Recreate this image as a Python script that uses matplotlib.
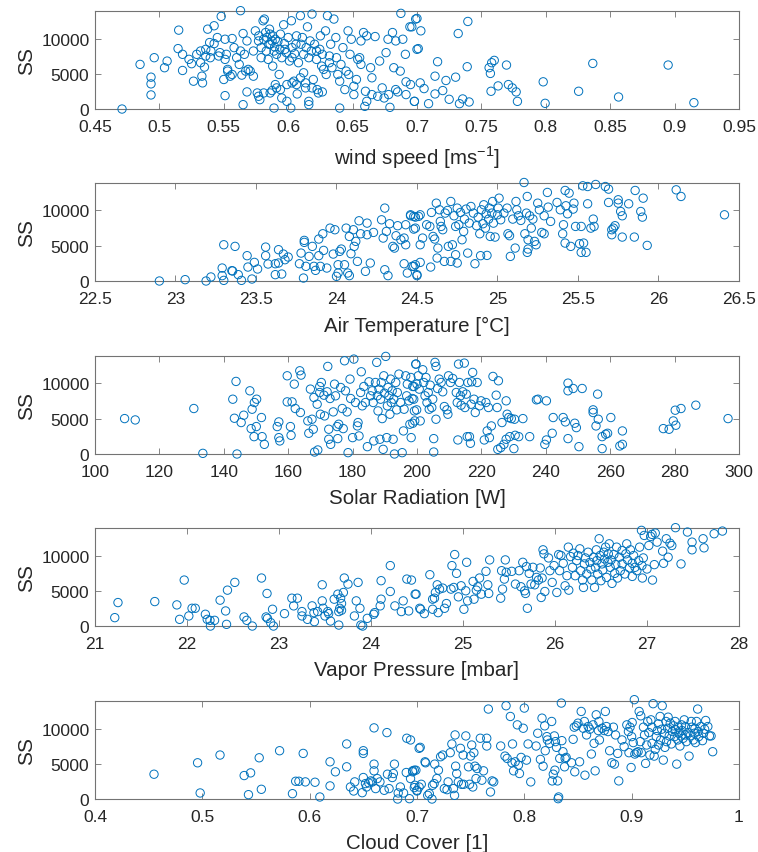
import numpy as np
import matplotlib.pyplot as plt
from matplotlib.ticker import FuncFormatter

# SS against five weather variables

wind_speed = [
    0.471, 0.485, 0.496, 0.4935, 0.4935, 0.4935, 0.504, 0.506, 0.515, 0.5145,
    0.518, 0.518, 0.523, 0.525, 0.5265, 0.529, 0.532, 0.533, 0.5335, 0.535,
    0.536, 0.5375, 0.539, 0.54, 0.5425, 0.545, 0.546, 0.548, 0.55, 0.551,
    0.551, 0.552, 0.553, 0.5565, 0.5565, 0.558, 0.562, 0.563, 0.564, 0.565,
    0.565, 0.566, 0.568, 0.569, 0.573, 0.5745, 0.576, 0.577, 0.578, 0.579,
    0.5805, 0.5815, 0.5825, 0.5835, 0.585, 0.5855, 0.586, 0.5875, 0.5875, 0.588,
    0.589, 0.589, 0.590, 0.591, 0.593, 0.594, 0.595, 0.5965, 0.5975, 0.599,
    0.600, 0.602, 0.6025, 0.603, 0.6045, 0.606, 0.607, 0.6095, 0.611, 0.612,
    0.6135, 0.615, 0.616, 0.617, 0.6185, 0.6195, 0.622, 0.6235, 0.625, 0.626,
    0.629, 0.6305, 0.632, 0.633, 0.6355, 0.637, 0.640, 0.640, 0.6425, 0.644,
    0.6465, 0.648, 0.649, 0.651, 0.654, 0.6565, 0.6585, 0.6595, 0.660, 0.661,
    0.664, 0.665, 0.6675, 0.671, 0.6745, 0.676, 0.6775, 0.679, 0.681, 0.682,
    0.6835, 0.685, 0.6875, 0.689, 0.6915, 0.6915, 0.6945, 0.698, 0.699, 0.7,
    0.5772, 0.579, 0.581, 0.583, 0.5845, 0.586, 0.588, 0.5895, 0.591, 0.592,
    0.5935, 0.595, 0.597, 0.5985, 0.601, 0.603, 0.605, 0.6065, 0.608, 0.610,
    0.612, 0.614, 0.616, 0.618, 0.6205, 0.622, 0.6245, 0.6265, 0.6275, 0.6295,
    0.632, 0.634, 0.6375, 0.6385, 0.641, 0.645, 0.647, 0.651, 0.653, 0.6555,
    0.6565, 0.661, 0.665, 0.6695, 0.673, 0.678, 0.6835, 0.687, 0.691, 0.695,
    0.532, 0.536, 0.5395, 0.5425, 0.547, 0.551, 0.553, 0.555, 0.560, 0.563,
    0.567, 0.5705, 0.573, 0.568, 0.577, 0.581, 0.586, 0.590, 0.594, 0.599,
    0.603, 0.6065, 0.6095, 0.6135, 0.616, 0.6185, 0.6225, 0.6265,
    0.696, 0.7, 0.703, 0.701, 0.716, 0.714, 0.7025, 0.7055, 0.698, 0.709,
    0.714, 0.720, 0.7225, 0.725, 0.730, 0.732, 0.733, 0.7355, 0.739, 0.7395,
    0.7405, 0.756, 0.757, 0.758, 0.760, 0.7575, 0.763, 0.7695, 0.771, 0.774,
    0.777, 0.778, 0.798, 0.7995, 0.8255, 0.8365, 0.8565, 0.895, 0.915,
]
ss_wind = [
    0, 6330, 7280, 4520, 3570, 2000, 5860, 6800, 11190, 8570,
    7760, 5470, 7050, 6430, 3950, 7760, 8230, 4660, 3710, 5950,
    8470, 11330, 9430, 8230, 11810, 10140, 7520, 13140, 4190, 1900,
    9900, 7760, 5620, 10000, 4900, 8710, 6330, 13950, 4810, 10710,
    620, 7760, 9660, 5620, 8230, 11090, 2280, 9660, 1330, 7280,
    12520, 12760, 10850, 10140, 9190, 11330, 10620, 9660, 2620, 6090,
    140, 8230, 9900, 3000, 4900, 10620, 1570, 11950, 8470, 3470,
    10140, 140, 12520, 7280, 3950, 9190, 2140, 13240, 10140, 5140,
    3000, 11660, 620, 9660, 13470, 4190, 8230, 2280, 10380, 6090,
    11090, 13240, 6570, 9190, 12760, 10140, 3950, 140, 8710, 2760,
    11090, 7760, 9900, 2050, 7050, 9660, 10850, 380, 2520, 10380,
    5860, 4430, 10280, 6810, 1570, 8000, 9900, 240, 10850, 5860,
    9660, 2430, 13570, 9900, 3860, 2050, 11660, 1090, 12760, 8470,
    10380, 8710, 9900, 8230, 7040, 9190, 10380, 8810, 7760, 9570,
    8470, 7280, 9280, 8000, 6810, 8710, 7850, 10380, 6570, 9190,
    7760, 8710, 7280, 8230, 9190, 7040, 8470, 7760, 5620, 4900,
    7520, 5860, 7280, 4900, 6330, 5380, 4900, 3240, 4190, 7280,
    6330, 1090, 2050, 1810, 3000, 2050, 2760, 5380, 7760, 3470,
    6570, 7520, 7280, 9280, 8000, 7040, 5380, 4660, 7280, 8230,
    5380, 5380, 4660, 2430, 1810, 2280, 2280, 3470, 2760, 1090,
    3710, 3470, 4430, 3710, 1090, 3000, 2760, 2430,
    11660, 12850, 11090, 8570, 6710, 4660, 3710, 2900, 1090, 760,
    2140, 2620, 4050, 1380, 4520, 10710, 760, 1430, 6000, 12420,
    1000, 5860, 5050, 6570, 6900, 2520, 3280, 6240, 3470, 3000,
    2430, 1090, 3860, 810, 2520, 6470, 1710, 6240, 900,
]

air_temp = [
    22.90, 23.06, 23.19, 23.22, 23.29, 23.30, 23.30, 23.29, 23.35, 23.355,
    23.37, 23.39, 23.41, 23.445, 23.45, 23.475, 23.49, 23.51, 23.56, 23.56,
    23.575, 23.62, 23.62, 23.64, 23.64, 23.66, 23.67, 23.68, 23.70, 23.77,
    23.78, 23.795, 23.80, 23.80, 23.81, 23.83, 23.85, 23.86, 23.87, 23.89,
    23.89, 23.90, 23.915, 23.92, 23.94, 23.96, 23.98, 23.99, 24.0, 24.01,
    24.01, 24.02, 24.03, 24.05, 24.06, 24.07, 24.08, 24.08, 24.09, 24.105,
    24.11, 24.12, 24.13, 24.14, 24.15, 24.18, 24.19, 24.19, 24.21, 24.23,
    24.28, 24.29, 24.30, 24.30, 24.31, 24.32, 24.33, 24.35, 24.36, 24.37,
    24.38, 24.40, 24.42, 24.42, 24.43, 24.43, 24.44, 24.46, 24.47, 24.48,
    24.49, 24.50,
    24.46, 24.48, 24.51, 24.52, 24.49, 24.49, 24.50, 24.48, 24.52, 24.535,
    24.52, 24.56, 24.58, 24.585, 24.59, 24.60, 24.61, 24.62, 24.625, 24.63,
    24.64, 24.645, 24.65, 24.66, 24.67, 24.675, 24.69, 24.695, 24.71, 24.71,
    24.72, 24.73, 24.74, 24.74, 24.75, 24.75, 24.76, 24.77, 24.78, 24.79,
    24.795, 24.805, 24.815, 24.825, 24.835, 24.85, 24.86, 24.87, 24.88, 24.89,
    24.895, 24.90, 24.91, 24.915, 24.925, 24.93, 24.935, 24.945, 24.95, 24.955,
    24.965, 24.97, 24.975, 24.985, 25.0, 25.005, 25.01, 25.02, 25.04, 25.06,
    25.065, 25.075, 25.08, 25.095, 25.11, 25.115, 25.12, 25.13, 25.145, 25.165,
    25.17, 25.18, 25.185, 25.185, 25.19, 25.19, 25.20, 25.21, 25.22, 25.23,
    25.24, 25.25, 25.26, 25.275, 25.29, 25.29, 25.31, 25.315, 25.33, 25.37,
    25.39, 25.405, 25.41, 25.42, 25.42, 25.425, 25.435, 25.445, 25.455, 25.47,
    25.475, 25.485, 25.51, 25.52, 25.52, 25.53, 25.535, 25.55, 25.56, 25.56,
    25.58, 25.595, 25.60, 25.61, 25.67, 25.69, 25.69, 25.71, 25.71, 25.72,
    25.73, 25.75, 25.75, 25.765, 25.775, 25.775, 25.815, 25.85, 25.855, 25.89,
    25.90, 25.905, 25.93, 26.11, 26.14, 26.41,
]
ss_temp = [
    0, 190, 0, 570, 1840, 5140, 90, 760, 1460, 1420,
    4910, 900, 90, 3590, 1980, 280, 2640, 1700, 4810, 3590,
    2410, 2450, 900, 4440, 2550, 990, 3820, 3020, 3400, 2450,
    3960, 420, 5760, 5480, 2080, 3490, 4910, 2080, 1510, 5950,
    3590, 2080, 6700, 4340, 1840, 7500, 3820, 7270, 660, 1130,
    2310, 4200, 4530, 2310, 7500, 1130, 760, 6320, 3870, 7270,
    4910, 5620, 2780, 8540, 6700, 1370, 6560, 8210, 2550, 6890,
    8680, 6090, 10340, 1600, 7030, 760, 8120, 4910, 4670, 6420,
    7840, 5850, 6090, 2450, 7980, 5140, 1130, 9250, 2080, 7360,
    9060, 760,
    9390, 9160, 9160, 9390, 7500, 2310, 900, 2080, 2640, 6090,
    5140, 7980, 7740, 1980, 9720, 6320, 5950, 11040, 3260, 4670,
    10100, 8450, 7740, 7270, 2780, 9630, 10010, 4910, 11280, 2780,
    5140, 9250, 7740, 3730, 10340, 2550, 7980, 9720, 5850, 7030,
    8780, 10200, 3960, 8210, 10570, 9630, 2450, 7840, 9060, 6700,
    3590, 10100, 8120, 10810, 7500, 9530, 3630, 8780, 10340, 6320,
    9630, 11280, 8210, 6230, 9390, 10340, 11750, 8680, 9630, 10340,
    6700, 6420, 3490, 8780, 4670, 11280, 10100, 9250, 8590, 13970,
    6700, 9630, 11990, 4060, 5850, 4530, 9250, 7500, 8780, 5620,
    5140, 11040, 10100, 6890, 6700, 9250, 12560, 10480, 8450, 11140,
    10100, 6700, 7980, 12840, 5380, 10670, 9530, 12460, 4910, 10200,
    11040, 7740, 5290, 4060, 7740, 13500, 5380, 4060, 10950, 13400,
    7500, 8780, 7740, 13690, 13400, 11140, 13030, 7270, 6560, 7500,
    7840, 11520, 11040, 9860, 9250, 6230, 10950, 6230, 12840, 9860,
    9060, 11750, 5050, 12930, 11990, 9390,
]

solar_rad = [
    109.2, 112.5, 130.7, 133.5, 143.8, 142.8, 144.1, 143.3, 145.4, 146.2,
    148.1, 148.8, 148.5, 149.5, 150.2, 149.4, 150.1, 151.7, 151.9, 152.6,
    156.6, 157.1, 157.1, 157.4, 159.7, 159.7, 160.7, 160.9, 161.2, 161.9,
    162.2, 163.6, 164.0, 163.8, 166.1, 166.4, 166.9, 167.4, 167.8, 168.0,
    168.2, 169.0, 169.2, 169.8, 169.8, 170.0, 170.3, 171.1, 171.3, 172.1,
    172.3, 172.6, 172.6, 173.0, 173.2, 174.0, 174.4, 174.7, 175.2, 175.4,
    175.7, 176.3, 176.8, 177.1, 177.5, 177.8, 178.3, 178.6, 179.2, 179.4,
    180.0, 180.4, 180.9, 181.5, 181.7, 182.0, 182.5, 182.7, 183.0, 183.5,
    184.0, 184.6, 185.1, 185.6, 186.1, 186.4, 186.6, 187.1, 187.5, 187.7,
    187.9, 188.2, 188.5, 188.7, 188.9, 189.2, 189.5, 189.7, 189.9, 190.3,
    190.6, 190.8, 191.0, 191.3, 191.6, 191.8, 192.0, 192.3, 192.6, 192.8,
    193.0, 193.4, 193.7, 193.9, 194.4, 194.9, 195.4, 195.8, 196.0, 196.5,
    196.8, 197.0, 197.5, 197.8, 198.2, 198.5, 199.1, 199.3, 199.6, 199.9,
    199.7, 198.1, 198.7, 199.0, 199.2, 198.7, 200.0, 200.4, 200.7, 201.0,
    201.8, 202.1, 202.5, 202.8, 203.1, 203.5, 203.8, 204.1, 204.6, 204.9,
    205.2, 205.2, 205.6, 205.9, 205.9, 206.4, 206.9, 207.5, 208.0, 208.5,
    209.3, 209.6, 209.8, 210.4, 211.1, 212.2, 212.5, 212.7, 212.9, 213.2,
    213.5, 213.7, 214.2, 214.7, 214.9, 215.3, 215.6, 215.8, 216.3, 216.6,
    216.8, 217.0, 217.3, 217.7, 218.1, 218.7, 219.4, 219.9, 220.9, 221.4,
    221.8, 222.2, 222.5, 223.1, 223.6, 224.6, 224.9, 225.3, 225.1, 226.0,
    226.4, 227.0, 227.7, 227.7, 228.0, 228.5, 228.8, 229.3, 230.1, 230.3,
    230.5, 231.6, 232.9, 235.0, 237.1, 237.6, 239.7, 240.2, 240.2, 242.0,
    242.3, 245.4, 246.1, 246.9, 246.9, 246.9, 248.5, 249.0, 249.5, 250.3,
    251.3, 254.7, 254.7, 255.6, 256.1, 256.3, 257.5, 257.5, 258.6, 259.2,
    260.2, 263.0, 263.8, 263.8, 276.5, 278.3, 279.6, 280.4, 280.2, 282.0,
    286.6, 296.6,
]
ss_solar = [
    5020, 4830, 6450, 90, 10290, 7770, 0, 5070, 4460, 5500,
    8960, 6350, 3600, 7300, 7770, 2460, 3890, 5170, 2460, 1370,
    3890, 4550, 2320, 1850, 11090, 7390, 3890, 2650, 7390, 9910,
    6450, 11800, 11190, 5880, 4690, 2940, 9200, 4930, 3510, 8010,
    280, 7060, 570, 9570, 8720, 5640, 10140, 8340, 5400, 8820,
    12420, 3510, 2090, 7870, 1370, 5970, 9910, 8250, 3890, 2180,
    4220, 9430, 6450, 3600, 13220, 8960, 5970, 190, 10620, 7870,
    2320, 13460, 7300, 3980, 4460, 2560, 8720, 11660, 6830, 9570,
    7300, 1040, 10240, 8250, 8960, 7300, 1850, 10140, 12990, 8250,
    6110, 9200, 2090, 7770, 10140, 5020, 660, 11090, 8630, 13840,
    2320, 6830, 9430, 8250, 5640, 10620, 7300, 8960, 2090, 7770,
    0, 10140, 6260, 8720, 11330, 7300, 190, 3270, 6350, 11090,
    8250, 9910, 7540, 4220, 2320, 7870, 9570, 4690, 12750, 6260,
    12750, 10850, 9570, 7770, 6110, 4360, 9910, 11090, 9200, 4690,
    11950, 10140, 8250, 10850, 7300, 8720, 6350, 9760, 6590, 7770,
    2180, 280, 12990, 12420, 4930, 9290, 10620, 10140, 8820, 6730,
    6260, 5640, 11090, 10140, 10710, 8720, 7300, 1990, 12750, 10140,
    8250, 6920, 8820, 12890, 6590, 8490, 2460, 10140, 2460, 1520,
    7060, 10240, 11570, 7770, 5880, 10140, 6830, 7540, 1990, 7300,
    3270, 6590, 2320, 3980, 11000, 8340, 6590, 10380, 660, 900,
    4460, 1370, 7540, 2090, 5640, 5170, 2460, 5020, 760, 4930,
    2650, 2460, 5020, 2460, 7680, 7770, 1370, 1990, 7540, 2940,
    5170, 5170, 4550, 10050, 8960, 2180, 9290, 4360, 3740, 1040,
    9290, 6260, 5880, 3980, 8490, 4930, 2460, 760, 2800, 2940,
    5170, 1140, 3270, 1370, 3600, 3510, 4690, 4080, 6210, 6450,
    6920, 5020,
]

vapor_pres = [
    21.215, 21.25, 21.65, 21.89, 21.92, 21.97, 22.02, 22.055, 22.09, 22.20,
    22.22, 22.25, 22.255, 22.30, 22.36, 22.42, 22.43, 22.44, 22.52, 22.62,
    22.65, 22.71, 22.81, 22.86, 22.87, 22.875, 22.93, 22.91, 22.94, 23.06,
    23.14, 23.16, 23.20, 23.25, 23.25, 23.31, 23.36, 23.38, 23.385, 23.42,
    23.47, 23.47, 23.48, 23.50, 23.53, 23.54, 23.56, 23.60, 23.64, 23.65,
    23.66, 23.67, 23.68, 23.68, 23.70, 23.71, 23.65, 23.75, 23.82, 23.84,
    23.86, 23.88, 23.89, 23.91, 23.96, 24.03, 24.04, 24.10, 24.11, 24.11,
    24.21, 24.21, 24.26, 24.33, 24.35, 24.39, 24.41, 24.49, 24.54,
    24.44, 24.48, 24.53, 24.58, 24.64, 24.67, 24.67, 24.69, 24.70, 24.72,
    24.73, 24.745, 24.78, 24.80, 24.82, 24.87, 24.88, 24.90, 24.91, 24.93,
    24.95, 24.98, 25.01, 25.03, 25.04, 25.05, 25.11, 25.12, 25.145, 25.16,
    25.18, 25.20, 25.25, 25.27, 25.28, 25.29, 25.41, 25.42, 25.43, 25.45,
    25.46, 25.47, 25.53, 25.57, 25.61, 25.63, 25.65, 25.67, 25.68, 25.69,
    25.70, 25.72, 25.74, 25.76, 25.78, 25.80, 25.82, 25.84, 25.85, 25.86,
    25.87, 25.88, 25.89, 25.93, 25.945, 25.97, 25.99, 26.02, 26.04, 26.05,
    26.065, 26.09, 26.11, 26.13, 26.145, 26.15, 26.17, 26.19, 26.20, 26.22,
    26.235, 26.25, 26.27, 26.28, 26.30, 26.31, 26.32, 26.33, 26.345, 26.36,
    26.38, 26.39, 26.40, 26.42, 26.43, 26.44, 26.45, 26.455, 26.465, 26.48,
    26.49, 26.50, 26.51, 26.52, 26.53, 26.54, 26.55, 26.56, 26.575, 26.58,
    26.59, 26.60, 26.61, 26.62, 26.64, 26.65, 26.66, 26.67, 26.68, 26.70,
    26.71, 26.73, 26.73, 26.76, 26.77, 26.78, 26.79, 26.81, 26.82, 26.84,
    26.84, 26.855, 26.87, 26.89, 26.91, 26.92, 26.94, 26.945, 26.95, 26.96,
    26.97, 27.0, 27.02, 27.04, 27.055, 27.06, 27.08, 27.09, 27.11, 27.17,
    27.18, 27.21, 27.23, 27.25, 27.27, 27.31, 27.37, 27.44, 27.49, 27.49,
    27.61, 27.62, 27.73, 27.82,
]
ss_vapor = [
    1190, 3330, 3470, 3000, 950, 6520, 1430, 2520, 2520, 1670,
    950, 810, 0, 810, 3670, 2140, 240, 5090, 6190, 1290,
    810, 0, 6810, 1290, 4620, 1090, 2380, 480, 0, 1760,
    3950, 2860, 3950, 2050, 1430, 950, 2860, 1900, 620, 2050,
    5850, 3570, 2520, 1430, 2050, 1760, 710, 3810, 4520, 2050,
    2520, 3950, 3190, 2240, 4760, 6810, 140, 5950, 1430, 3570,
    6190, 2520, 140, 0, 1090, 1670, 1900, 2860, 6430, 3810,
    8570, 4900, 2860, 2050, 3570, 6660, 2140, 4520, 2380,
    6520, 4520, 2520, 1760, 7280, 2380, 3810, 3950, 4760, 5850,
    1900, 5240, 5380, 2520, 3190, 5240, 8570, 5470, 10140, 7470,
    4140, 5710, 2380, 5000, 9040, 3570, 6330, 3810, 5090, 5570,
    6810, 4520, 7760, 5850, 4620, 9380, 3950, 7850, 5240, 6660,
    9380, 7620, 7760, 5950, 7850, 5570, 9040, 5000, 4620, 8430,
    2520, 7470, 5950, 8330, 5850, 6900, 6520, 8240, 4050, 6810,
    10810, 10240, 4900, 9660, 7850, 6190, 8570, 4760, 10140, 7850,
    10000, 8900, 5710, 7140, 11190, 5090, 9850, 8330, 10330, 7140,
    9280, 10000, 10950, 7850, 6520, 5470, 8810, 9660, 7380, 10470,
    9040, 8090, 6520, 9760, 5470, 8330, 10810, 9280, 7380, 12380,
    10000, 6430, 8810, 7950, 10470, 9520, 11190, 6900, 9040, 10240,
    11660, 8330, 9380, 6050, 10140, 7470, 8710, 11190, 6810, 9760,
    7850, 10710, 8810, 7380, 10240, 11660, 9380, 8240, 10810, 7040,
    8900, 10000, 8330, 7850, 9280, 11190, 13570, 8570, 6810, 9660,
    12850, 8090, 11420, 12710, 13000, 6520, 8710, 13190, 11900, 10620,
    8900, 12380, 9760, 11760, 11420, 13950, 8810, 13330, 10810, 11900,
    12380, 11090, 13090, 13470,
]

cloud_cover = [
    0.455, 0.4956, 0.498, 0.5165, 0.539, 0.543, 0.545, 0.553, 0.555, 0.572,
    0.584, 0.587, 0.590, 0.594, 0.596, 0.605, 0.6095, 0.619, 0.619, 0.624,
    0.6345, 0.6345, 0.638, 0.641, 0.642, 0.649, 0.650, 0.650, 0.650, 0.652,
    0.653, 0.655, 0.657, 0.6585, 0.660, 0.660, 0.660, 0.6615, 0.663, 0.6655,
    0.6695, 0.672, 0.6725, 0.674, 0.677, 0.678, 0.679, 0.682, 0.6825, 0.6845,
    0.6875, 0.690, 0.6905, 0.693, 0.694, 0.696, 0.6975, 0.699, 0.702, 0.700,
    0.694, 0.696, 0.6975, 0.698, 0.700, 0.702, 0.703, 0.704, 0.7075, 0.708,
    0.710, 0.7115, 0.714, 0.7145, 0.716, 0.7165, 0.7185, 0.720, 0.722, 0.724,
    0.7255, 0.728, 0.729, 0.731, 0.7325, 0.734, 0.735, 0.7355, 0.736, 0.737,
    0.7385, 0.7405, 0.7415, 0.743, 0.7435, 0.7455, 0.748, 0.749, 0.750, 0.751,
    0.752, 0.753, 0.754, 0.755, 0.756, 0.759, 0.7605, 0.762, 0.765, 0.765,
    0.7665, 0.7685, 0.770, 0.7715, 0.778, 0.782, 0.783, 0.784, 0.787, 0.7885,
    0.789, 0.790, 0.7915, 0.7935, 0.7945, 0.7955, 0.797, 0.799, 0.800, 0.802,
    0.8035, 0.806, 0.811, 0.8125, 0.815, 0.8165, 0.8175, 0.819, 0.8195, 0.821,
    0.8215, 0.8235, 0.8255, 0.826, 0.827, 0.828, 0.8285, 0.829, 0.830, 0.831,
    0.8315, 0.832, 0.833, 0.8345, 0.835, 0.836, 0.8375, 0.838, 0.839, 0.844,
    0.8455, 0.8465, 0.847, 0.8485, 0.850, 0.8515, 0.853, 0.855, 0.856, 0.8565,
    0.858, 0.8595, 0.861, 0.8625, 0.864, 0.865, 0.866, 0.867, 0.869, 0.8695,
    0.870, 0.8725, 0.8745, 0.8755, 0.8765, 0.878, 0.8795, 0.8815, 0.883, 0.884,
    0.885, 0.887, 0.888, 0.891, 0.893, 0.8955, 0.897, 0.8975, 0.8985, 0.8995,
    0.900, 0.9005, 0.9015, 0.9025, 0.903, 0.9045, 0.906, 0.907, 0.908, 0.9085,
    0.909, 0.911, 0.912, 0.913, 0.914, 0.915, 0.916, 0.917, 0.918, 0.919,
    0.919, 0.920, 0.921, 0.922, 0.923, 0.924, 0.925, 0.925, 0.9265, 0.927,
    0.928, 0.9285, 0.9295, 0.9305, 0.931, 0.932, 0.9325, 0.9335, 0.934, 0.935,
    0.936, 0.937, 0.938, 0.939, 0.940, 0.9405, 0.941, 0.942, 0.943, 0.9435,
    0.944, 0.945, 0.946, 0.9465, 0.947, 0.948, 0.949, 0.950, 0.950, 0.951,
    0.9525, 0.9535, 0.9545, 0.9555, 0.956, 0.9575, 0.9585, 0.959, 0.9595, 0.9605,
    0.9615, 0.962, 0.9625, 0.9645, 0.966, 0.967, 0.968, 0.969, 0.971, 0.9725,
    0.974, 0.9755,
]
ss_cloud = [
    3520, 5140, 860, 6240, 3330, 620, 3710, 5850, 1380, 6850,
    760, 2520, 2520, 6470, 2430, 2380, 290, 5280, 1860, 3860,
    4570, 7810, 1710, 1140, 2430, 900, 3050, 6850, 6470, 2190,
    1710, 2290, 2570, 2430, 4950, 4000, 10090, 1480, 2900, 2430,
    1240, 9420, 3520, 1480, 3050, 3620, 4950, 0, 860, 1710,
    860, 3760, 8620, 50, 2900, 4000, 1620, 4090, 7190, 1140,
    8380, 3860, 4090, 1950, 1240, 1710, 7330, 2090, 5280, 5140,
    520, 760, 0, 1950, 2190, 4950, 2900, 4090, 6000, 6240,
    1480, 1330, 2430, 6570, 7810, 1480, 520, 9090, 4660, 3620,
    2430, 7190, 2090, 6240, 2090, 8950, 4570, 2090, 6090, 7660,
    1710, 6570, 4660, 2900, 4330, 8620, 2670, 4000, 8620, 7520,
    12760, 1000, 2570, 2430, 7520, 6090, 13230, 5760, 11710, 5140,
    7810, 4000, 5280, 10520, 4810, 3620, 5900, 10040, 12900, 5520,
    7810, 2430, 7520, 9330, 5620, 11470, 4660, 10380, 6850, 8850,
    8380, 7900, 11000, 2570, 3520, 8950, 4090, 8140, 7330, 2570,
    50, 290, 5760, 13610, 8280, 6710, 4570, 5760, 5900, 5140,
    8470, 10190, 3860, 10380, 10760, 5280, 12420, 10040, 11000, 3380,
    9090, 10280, 9900, 6380, 10520, 7900, 4000, 11950, 9710, 11000,
    8380, 10040, 9710, 12420, 10280, 9570, 6850, 5140, 10190, 4950,
    9090, 6470, 2570, 8380, 7430, 10520, 9570, 6570, 10190, 4470,
    8850, 10850, 8000, 14090, 6380, 6570, 6710, 12420, 8140, 11800,
    6570, 10190, 9090, 5050, 7660, 11000, 9430, 6240, 11230, 7900,
    10190, 13520, 6090, 7050, 8850, 9710, 7660, 10660, 11710, 8380,
    9900, 13230, 5520, 9330, 7330, 11000, 8140, 10040, 11610, 8950,
    10760, 7810, 9570, 10380, 8850, 11000, 9810, 4950, 8380, 10190,
    9330, 7520, 8950, 10520, 9710, 8620, 11230, 9090, 10280, 8140,
    9430, 6090, 8950, 11000, 10190, 8380, 9330, 10040, 8000, 11000,
    12760, 9570, 8850, 10280, 8280, 9330, 9900, 11140, 10280, 8950,
    8950, 6710,
]

x_labels = ['wind speed [ms$^{\\mathregular{-1}}$]',
            'Air Temperature [°C]',
            'Solar Radiation [W]',
            'Vapor Pressure [mbar]',
            'Cloud Cover [1]']
x_limits = [(0.45, 0.95), (22.5, 26.5), (100, 300), (21, 28), (0.4, 1.0)]
x_steps = [0.05, 0.5, 20, 1, 0.1]
y_ticks = [0, 5000, 10000]

plt.rcParams['font.family'] = ['Liberation Sans', 'DejaVu Sans']
text_col = '0.15'
blue = '#0072BD'

fig = plt.figure(figsize=(7.58, 8.53), dpi=100)

panels = [(wind_speed, ss_wind), (air_temp, ss_temp), (solar_rad, ss_solar),
          (vapor_pres, ss_vapor), (cloud_cover, ss_cloud)]
bottoms = [0.871, 0.6694, 0.4666, 0.2649, 0.0621]

for i, (xv, yv) in enumerate(panels):
    ax = fig.add_axes([0.1253, bottoms[i], 0.8496, 0.1149])
    ax.scatter(xv, yv, s=36, facecolors='none', edgecolors=blue,
               linewidths=0.7, clip_on=False, zorder=3)
    lo, hi = x_limits[i]
    ax.set_xlim(lo, hi)
    ax.set_ylim(0, 13900)
    ax.set_xticks(np.arange(lo, hi + x_steps[i] / 2, x_steps[i]))
    ax.xaxis.set_major_formatter(FuncFormatter(lambda v, p: '%g' % round(v, 4)))
    ax.set_yticks(y_ticks)
    ax.tick_params(direction='in', length=4.5, width=0.6, top=True, right=True,
                   labelsize=12.5, colors='0.45', labelcolor=text_col)
    ax.tick_params(axis='x', pad=7)
    ax.tick_params(axis='y', pad=4)
    for sp in ax.spines.values():
        sp.set_color('0.45')
        sp.set_linewidth(0.8)
    ax.set_xlabel(x_labels[i], fontsize=14.8, color=text_col, labelpad=7)
    ax.set_ylabel('SS', fontsize=15, color=text_col, labelpad=4)

fig.savefig('out.png', dpi=100)
